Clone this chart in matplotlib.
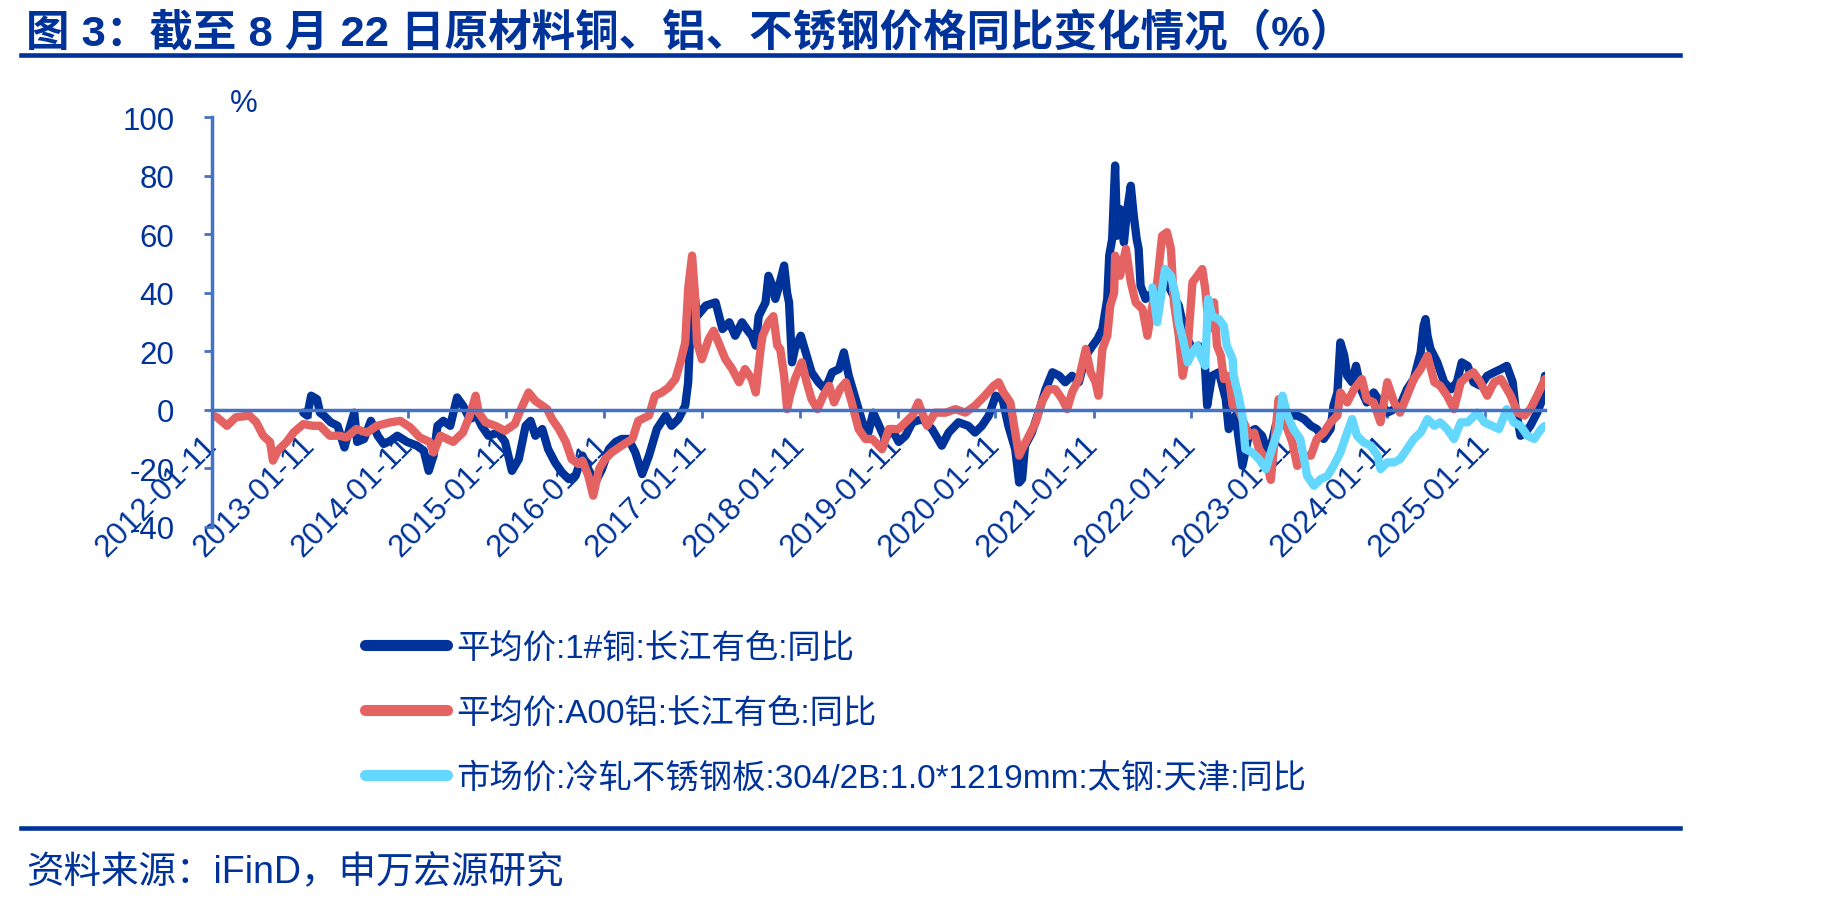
import numpy as np
import pandas as pd
import matplotlib
matplotlib.use('Agg')
import matplotlib.pyplot as plt
import matplotlib.dates as mdates
from matplotlib.lines import Line2D

plt.rcParams['font.family'] = ['Liberation Sans', 'Noto Sans CJK SC', 'DejaVu Sans']
plt.rcParams['axes.unicode_minus'] = False

# decimal-year positions and YoY % values
cu_year = [2012.96, 2013.00, 2013.04, 2013.10, 2013.13, 2013.17, 2013.24, 2013.31, 2013.38, 2013.43,
           2013.48, 2013.51, 2013.58, 2013.65, 2013.72, 2013.78, 2013.85, 2013.92, 2014.02, 2014.12,
           2014.19, 2014.24, 2014.29, 2014.33, 2014.39, 2014.46, 2014.53, 2014.59, 2014.66, 2014.73,
           2014.78, 2014.85, 2014.95, 2015.02, 2015.09, 2015.16, 2015.23, 2015.28, 2015.33, 2015.40,
           2015.46, 2015.53, 2015.60, 2015.67, 2015.74, 2015.81, 2015.87, 2015.94, 2016.01, 2016.08,
           2016.15, 2016.21, 2016.28, 2016.35, 2016.42, 2016.49, 2016.57, 2016.66, 2016.72, 2016.79,
           2016.86, 2016.89, 2016.91, 2016.94, 2016.98, 2017.07, 2017.17, 2017.24, 2017.31, 2017.37,
           2017.44, 2017.50, 2017.54, 2017.58, 2017.61, 2017.68, 2017.71, 2017.75, 2017.78, 2017.81,
           2017.87, 2017.90, 2017.92, 2017.95, 2017.98, 2018.04, 2018.09, 2018.15, 2018.22, 2018.29,
           2018.36, 2018.43, 2018.48, 2018.53, 2018.60, 2018.67, 2018.73, 2018.78, 2018.84, 2018.90,
           2018.97, 2019.04, 2019.11, 2019.18, 2019.28, 2019.38, 2019.48, 2019.55, 2019.65, 2019.75,
           2019.82, 2019.89, 2019.96, 2020.03, 2020.10, 2020.16, 2020.23, 2020.27, 2020.30, 2020.33,
           2020.40, 2020.49, 2020.54, 2020.61, 2020.68, 2020.74, 2020.81, 2020.88, 2020.95, 2021.02,
           2021.07, 2021.12, 2021.17, 2021.19, 2021.22, 2021.25, 2021.27, 2021.30, 2021.34, 2021.37,
           2021.41, 2021.44, 2021.47, 2021.49, 2021.51, 2021.56, 2021.63, 2021.70, 2021.76, 2021.83,
           2021.90, 2021.97, 2022.04, 2022.10, 2022.16, 2022.19, 2022.24, 2022.31, 2022.38, 2022.41,
           2022.48, 2022.55, 2022.62, 2022.68, 2022.75, 2022.82, 2022.89, 2022.96, 2023.04, 2023.11,
           2023.18, 2023.25, 2023.31, 2023.38, 2023.45, 2023.48, 2023.52, 2023.55, 2023.59, 2023.62,
           2023.67, 2023.71, 2023.76, 2023.82, 2023.89, 2023.96, 2024.03, 2024.10, 2024.16, 2024.23,
           2024.30, 2024.37, 2024.40, 2024.42, 2024.44, 2024.47, 2024.54, 2024.61, 2024.68, 2024.74,
           2024.79, 2024.85, 2024.91, 2024.98, 2025.05, 2025.12, 2025.19, 2025.25, 2025.31, 2025.34,
           2025.39, 2025.44, 2025.49, 2025.56, 2025.60, 2025.64]
cu_val = [-1, -2, 4.8, 3.6, -1, -2, -4.3, -5.5, -12.9, -6.6,
          -1, -11, -10, -3.8, -8.9, -11.7, -10.6, -8.9, -11, -12.3,
          -14, -20.9, -15.7, -5.5, -3.8, -5.5, 4.2, 1.4, -3.2, -2,
          -5.5, -8.9, -7.8, -11, -20.9, -16.9, -5.5, -3.8, -8.9, -6.6,
          -13.5, -18, -21.4, -23.7, -22.6, -15.7, -20.3, -24.9, -20.3, -13.5,
          -11, -10, -10, -14.6, -22, -15.7, -6.6, -2, -5.5, -3.2,
          1.4, 9.4, 25, 44, 32, 35.6, 36.7, 27.6, 29.9, 25.3,
          29.9, 27, 25.3, 21.9, 32, 36.7, 45.8, 42.4, 37.9, 41.3,
          49.3, 40, 36.7, 16.2, 20.8, 25.3, 19.6, 12.8, 9.4, 7,
          12.8, 13.9, 19.6, 11.6, 3.6, -4.3, -7.8, -1, -5.5, -10,
          -6.6, -11, -8.9, -4.3, -3.2, -6.6, -12.3, -7.8, -4.3, -5.5,
          -7.8, -5.5, -2, 4.8, 3.6, -5.5, -13.5, -24.9, -23.7, -12.3,
          -7.8, 1.4, 7, 12.8, 11.6, 9.4, 11.6, 9.4, 18.5, 21.9,
          24.2, 27.6, 37.9, 52.7, 58.4, 83.5, 59.5, 68.6, 57.2, 67.5,
          76.6, 66.4, 58.4, 55, 42.4, 37.9, 40, 41.3, 44.7, 40,
          35.6, 25.3, 20.8, 21.9, 19.6, 1.4, 11.6, 12.8, 3.6, -6.6,
          -2, -19.2, -7.8, -6.6, -8.9, -15.7, -5.5, 0.2, -2, -2,
          -3.2, -5.5, -6.6, -10, -6.6, 1.4, 5.9, 23, 18.5, 11.6,
          9.4, 15, 7, 2.5, 5.9, 2.5, -1, 0.2, 1.4, 7,
          10.5, 19.6, 28.7, 31, 25.3, 20.8, 16.2, 9.4, 7, 9.4,
          16.2, 15, 9.4, 8.2, 11.6, 12.8, 13.9, 15, 9.4, 0.2,
          -8.9, -7.8, -5.5, -1, 2.5, 11.6]

al_year = [2012.03, 2012.08, 2012.18, 2012.27, 2012.41, 2012.48, 2012.55, 2012.62, 2012.65, 2012.70,
           2012.79, 2012.86, 2012.96, 2013.06, 2013.13, 2013.23, 2013.33, 2013.40, 2013.50, 2013.61,
           2013.71, 2013.85, 2013.95, 2014.05, 2014.15, 2014.25, 2014.29, 2014.36, 2014.49, 2014.59,
           2014.66, 2014.72, 2014.75, 2014.82, 2014.92, 2015.02, 2015.12, 2015.16, 2015.26, 2015.33,
           2015.40, 2015.45, 2015.50, 2015.57, 2015.64, 2015.70, 2015.77, 2015.81, 2015.87, 2015.92,
           2015.98, 2016.04, 2016.11, 2016.21, 2016.32, 2016.38, 2016.49, 2016.55, 2016.62, 2016.69,
           2016.76, 2016.81, 2016.86, 2016.89, 2016.93, 2016.96, 2016.98, 2017.03, 2017.10, 2017.15,
           2017.20, 2017.27, 2017.34, 2017.41, 2017.47, 2017.54, 2017.58, 2017.63, 2017.65, 2017.71,
           2017.76, 2017.80, 2017.83, 2017.87, 2017.90, 2017.93, 2017.98, 2018.05, 2018.10, 2018.15,
           2018.21, 2018.27, 2018.33, 2018.38, 2018.44, 2018.50, 2018.56, 2018.63, 2018.70, 2018.77,
           2018.87, 2018.94, 2019.04, 2019.11, 2019.18, 2019.24, 2019.33, 2019.41, 2019.52, 2019.62,
           2019.72, 2019.82, 2019.92, 2020.01, 2020.06, 2020.11, 2020.18, 2020.23, 2020.27, 2020.30,
           2020.37, 2020.44, 2020.50, 2020.57, 2020.64, 2020.71, 2020.76, 2020.81, 2020.88, 2020.95,
           2021.00, 2021.05, 2021.08, 2021.12, 2021.17, 2021.20, 2021.24, 2021.25, 2021.30, 2021.36,
           2021.41, 2021.46, 2021.53, 2021.58, 2021.63, 2021.68, 2021.73, 2021.78, 2021.82, 2021.85,
           2021.90, 2021.94, 2021.99, 2022.04, 2022.09, 2022.14, 2022.17, 2022.21, 2022.26, 2022.29,
           2022.33, 2022.36, 2022.41, 2022.45, 2022.48, 2022.55, 2022.62, 2022.67, 2022.72, 2022.79,
           2022.84, 2022.88, 2022.92, 2022.96, 2023.01, 2023.06, 2023.11, 2023.18, 2023.25, 2023.31,
           2023.38, 2023.45, 2023.52, 2023.55, 2023.62, 2023.69, 2023.77, 2023.82, 2023.89, 2023.96,
           2024.03, 2024.10, 2024.16, 2024.23, 2024.30, 2024.37, 2024.44, 2024.51, 2024.57, 2024.64,
           2024.71, 2024.78, 2024.85, 2024.91, 2024.98, 2025.05, 2025.12, 2025.19, 2025.29, 2025.36,
           2025.43, 2025.49, 2025.56, 2025.64]
al_val = [-2, -2.6, -5.5, -2.6, -2, -4.3, -8.9, -11, -17.4, -14,
          -11, -7.8, -4.9, -5.5, -5.5, -8.9, -8.9, -9.5, -6.6, -7.8,
          -5.5, -4.3, -3.8, -6, -9.5, -11, -14.6, -8.9, -11, -7.8,
          -2, 4.8, -1, -4.3, -5.5, -7.2, -4.9, -1.5, 5.9, 3,
          1.4, 0.2, -3.2, -6.6, -11, -16.9, -18.6, -17.4, -22.6, -29.4,
          -20.3, -16.9, -14.6, -12.3, -10, -3.8, -2, 4.8, 5.9, 7.6,
          10.5, 16.2, 23, 41.3, 52.7, 39, 23, 17.3, 24.2, 27,
          23, 17.3, 13.9, 9.4, 13.9, 10.5, 5.9, 20.8, 25.3, 29.9,
          32, 21.9, 20.8, 11.6, 0.2, 4.8, 10.5, 16.2, 9.4, 3.6,
          0.2, 4.8, 8.2, 2.5, 7, 9.4, 2.5, -6.6, -10, -10,
          -13.5, -6.6, -6.6, -4.3, -2, 2.5, -5.5, -1, -1, 0.2,
          -1, 1.4, 4.8, 8.2, 9.4, 5.9, 2.5, -7.8, -15.7, -13.5,
          -8.9, -4.3, 2.5, 7, 7, 3.6, 0.2, 5.9, 10.5, 20.8,
          12.8, 9.4, 4.8, 20.8, 25.3, 35.6, 40, 52.7, 45.8, 55,
          43.6, 36.7, 34.4, 25.3, 35.6, 43.6, 59.5, 60.7, 55, 36.7,
          25.3, 11.6, 20.8, 43.6, 45.8, 48.1, 41.3, 27.6, 36.7, 21.9,
          18.5, 10.5, 11.6, 1.4, 2.5, -3.2, -8.9, -7.8, -13.5, -17,
          -24, -10, 3.6, -3.2, -6.6, -11.2, -19.2, -15.7, -15.7, -10,
          -7.8, -4.3, -2, 5.9, 2.5, 7, 10.5, 3.6, 2.5, -4.3,
          9.4, 2.5, -1, 4.8, 10.5, 13.9, 18.5, 9.4, 8.2, 4.8,
          0.2, 9.4, 11.6, 12.8, 9.4, 4.8, 9.4, 10.5, 4.8, -1,
          -2, 0.2, 4.8, 10.5]

ss_year = [2021.63, 2021.68, 2021.73, 2021.76, 2021.82, 2021.87, 2021.90, 2021.95, 2021.99, 2022.04,
           2022.09, 2022.12, 2022.17, 2022.20, 2022.24, 2022.31, 2022.36, 2022.39, 2022.45, 2022.46,
           2022.51, 2022.55, 2022.58, 2022.65, 2022.72, 2022.79, 2022.85, 2022.92, 2022.96, 2023.01,
           2023.07, 2023.14, 2023.18, 2023.21, 2023.28, 2023.35, 2023.42, 2023.48, 2023.55, 2023.62,
           2023.67, 2023.72, 2023.79, 2023.86, 2023.93, 2023.96, 2024.03, 2024.10, 2024.16, 2024.23,
           2024.30, 2024.37, 2024.44, 2024.51, 2024.57, 2024.64, 2024.71, 2024.78, 2024.85, 2024.95,
           2025.02, 2025.10, 2025.17, 2025.25, 2025.32, 2025.39, 2025.46, 2025.53, 2025.60, 2025.64]
ss_val = [41.8, 29.9, 41.3, 48.1, 45.8, 39, 29.9, 23, 16.2, 19.6,
          21.9, 18.5, 15, 37.9, 32, 31, 28.7, 21.9, 17.3, 11.6,
          4.8, -2, -13.5, -14.6, -16.9, -20.3, -13.5, -6.6, 4.8, -2,
          -6.6, -10, -16.9, -22.6, -26, -23.7, -22.6, -19.2, -14.6, -7.8,
          -3.2, -8.9, -11.2, -12.3, -15.7, -20.3, -18, -18, -16.9, -13.5,
          -10, -7.8, -3.2, -5.5, -4.3, -6.6, -10, -4.3, -4.3, -1,
          -4.3, -5.5, -6.6, 0.2, -4.3, -5.5, -8.9, -10, -6.6, -5.5]

labels = ['平均价:1#铜:长江有色:同比',
          '平均价:A00铝:长江有色:同比',
          '市场价:冷轧不锈钢板:304/2B:1.0*1219mm:太钢:天津:同比']
tick_dates = ['%d-01-11' % y for y in range(2012, 2026)]

navy = '#003399'
axis_blue = '#4472C4'
colors = ['#003399', '#E46262', '#64D7FF']


def to_dates(years):
    years = np.asarray(years, dtype=float)
    return pd.to_datetime('2012-01-01') + pd.to_timedelta((years - 2012) * 365.25, unit='D')


fig = plt.figure(figsize=(18.49, 9.04), dpi=100)
ax = fig.add_axes([212 / 1849, 1 - 527.7 / 904, 1333 / 1849, 409.4 / 904])

handles = []
for yrs, vals, c in zip([cu_year, al_year, ss_year], [cu_val, al_val, ss_val], colors):
    h, = ax.plot(to_dates(yrs), vals, color=c, lw=6,
                 solid_capstyle='round', solid_joinstyle='round')
    handles.append(h)

ax.set_ylim(-40, 100)
ax.set_yticks(np.arange(-40, 101, 20))
ax.set_xlim(pd.Timestamp('2012-01-11'), pd.Timestamp('2025-08-22'))
ax.set_xticks(pd.to_datetime(tick_dates))
ax.xaxis.set_major_formatter(mdates.DateFormatter('%Y-%m-%d'))

for s in ['top', 'right']:
    ax.spines[s].set_visible(False)
ax.spines['bottom'].set_position(('data', 0))
for s in ['left', 'bottom']:
    ax.spines[s].set_color(axis_blue)
    ax.spines[s].set_linewidth(2.5)

ax.tick_params(axis='y', length=6, width=2, color=axis_blue, pad=21,
               labelsize=22.5, labelcolor=navy)
ax.tick_params(axis='x', length=6, width=2, color=axis_blue, pad=16,
               labelsize=22.5, labelcolor=navy)
for lab in ax.get_xticklabels():
    lab.set_rotation(45)
    lab.set_rotation_mode('anchor')
    lab.set_ha('right')
    lab.set_va('center')

fig.text(244 / 1849, 1 - 104 / 904, '%', ha='center', va='center',
         fontsize=22.5, color=navy)

leg = fig.legend(handles, labels, loc='center left',
                 bbox_to_anchor=(365 / 1849, 1 - 714 / 904), frameon=False,
                 fontsize=24, labelcolor=navy, handlelength=2.45,
                 handletextpad=0.3, labelspacing=1.0, borderpad=0, borderaxespad=0)
for h in leg.legend_handles:
    h.set_linewidth(8)
    h.set_solid_capstyle('round')

# title, rules and source
fig.text(26 / 1849, 1 - 33 / 904, '图 3：截至 8 月 22 日原材料铜、铝、不锈钢价格同比变化情况（%）',
         ha='left', va='center', fontsize=31.3, fontweight='bold', color=navy)
fig.add_artist(Line2D([21 / 1849, 1680 / 1849], [1 - 56 / 904] * 2, lw=3.3, color=navy))
fig.add_artist(Line2D([21 / 1849, 1680 / 1849], [1 - 829 / 904] * 2, lw=3.3, color=navy))
fig.text(26 / 1849, 1 - 873 / 904, '资料来源：iFinD，申万宏源研究',
         ha='left', va='center', fontsize=27, color=navy)

fig.savefig('out.png', dpi=100)
